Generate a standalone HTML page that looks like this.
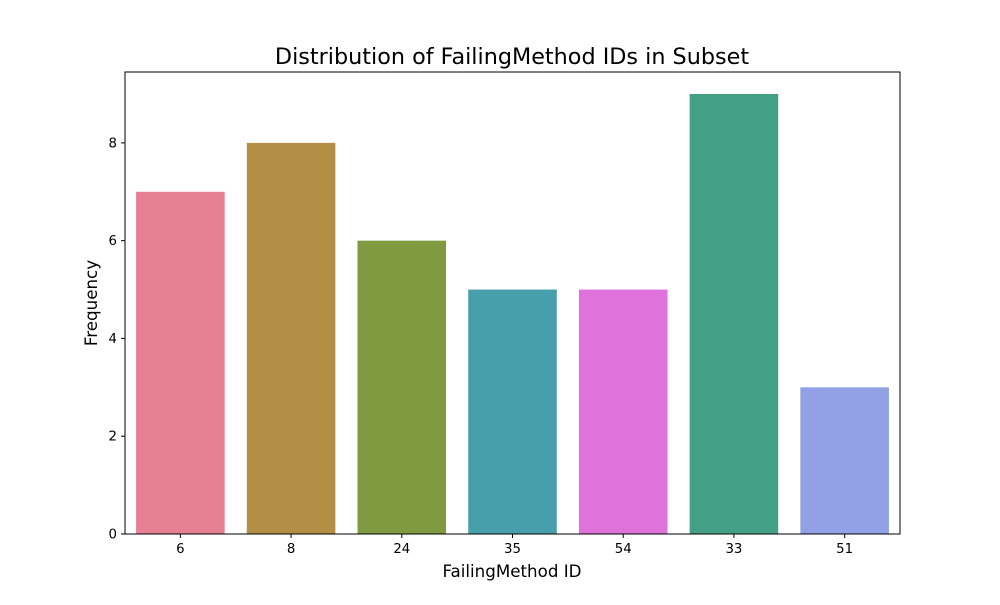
<!DOCTYPE html>
<html><head><meta charset="utf-8"><style>
body{margin:0;background:#fff;}
svg{font-family:"DejaVu Sans","Liberation Sans",sans-serif;}
</style></head><body>
<svg id="chart" width="1000" height="600" xmlns="http://www.w3.org/2000/svg">
<rect width="1000" height="600" fill="#fff"/>
<text x="512" y="64" text-anchor="middle" font-size="22.3">Distribution of FailingMethod IDs in Subset</text>
<text x="512" y="577" text-anchor="middle" font-size="16.7">FailingMethod ID</text>
<text x="97" y="303" text-anchor="middle" font-size="16.7" transform="rotate(-90 97 303)">Frequency</text>
<g id="bars"></g>
<g id="xticks"></g>
<g id="yticks"></g>
<rect x="125" y="72" width="775" height="462" fill="none" stroke="#000" stroke-width="1"/>
</svg>
<script>
const categories = ["6","8","24","35","54","33","51"];
const values = [7,8,6,5,5,9,3];
const colors = ["#e68193","#b38f45","#7f9a40","#489fac","#e072db","#43a086","#92a0e6"];
const yTicks = [0,2,4,6,8];
const L=125,R=900,T=72,B=534,yMax=9.45;
const NS="http://www.w3.org/2000/svg";
const band=(R-L)/categories.length;
const xPos=i=>L+band*(i+0.5);
const yPos=v=>B-(v/yMax)*(B-T);
const bars=document.getElementById('bars'),xt=document.getElementById('xticks'),yt=document.getElementById('yticks');
categories.forEach((c,i)=>{
  const r=document.createElementNS(NS,'rect');
  const w=band*0.8;
  r.setAttribute('x',xPos(i)-w/2);r.setAttribute('y',yPos(values[i]));
  r.setAttribute('width',w);r.setAttribute('height',B-yPos(values[i]));
  r.setAttribute('fill',colors[i]);
  
  
  bars.appendChild(r);
  const l=document.createElementNS(NS,'line');
  l.setAttribute('x1',xPos(i));l.setAttribute('x2',xPos(i));l.setAttribute('y1',B);l.setAttribute('y2',B+4);l.setAttribute('stroke','#000');
  xt.appendChild(l);
  const t=document.createElementNS(NS,'text');
  t.setAttribute('x',xPos(i));t.setAttribute('y',B+19);t.setAttribute('text-anchor','middle');t.setAttribute('font-size','13.3');
  t.textContent=c;
  
  
  xt.appendChild(t);
});
yTicks.forEach(v=>{
  const l=document.createElementNS(NS,'line');
  l.setAttribute('x1',L-4);l.setAttribute('x2',L);l.setAttribute('y1',yPos(v));l.setAttribute('y2',yPos(v));l.setAttribute('stroke','#000');
  yt.appendChild(l);
  const t=document.createElementNS(NS,'text');
  t.setAttribute('x',L-8);t.setAttribute('y',yPos(v)+4.5);t.setAttribute('text-anchor','end');t.setAttribute('font-size','13.3');
  t.textContent=v;
  
  
  yt.appendChild(t);
});
</script>
</body></html>
